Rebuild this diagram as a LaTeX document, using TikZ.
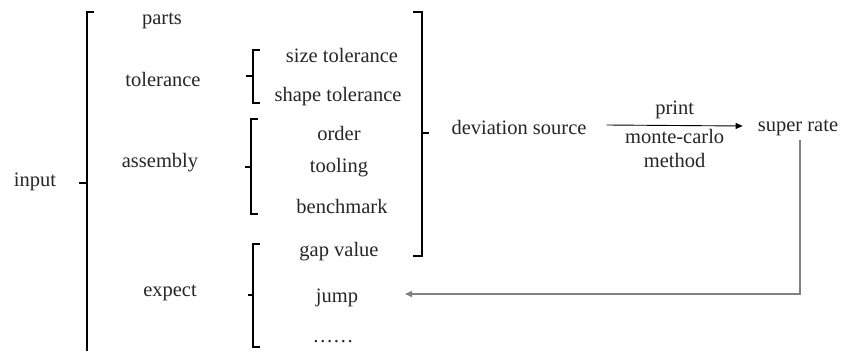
\documentclass[tikz,border=0pt]{standalone}
\usepackage{fontspec}
\setmainfont{LiberationSerif}[Extension=.ttf,UprightFont=*-Regular]
\usetikzlibrary{arrows.meta}
\begin{document}
\begin{tikzpicture}[x=1pt,y=-1pt,
	lbl/.style={inner sep=0pt,text=black!85,font=\fontsize{20.5}{24}\selectfont},
	brk/.style={line width=1.3pt},
	flow/.style={-{Triangle[length=7pt,width=6pt]},line width=0.9pt},
	back/.style={-{Triangle[length=7pt,width=6pt]},line width=1.3pt,draw=black!50}]
	\useasboundingbox (0,0) rectangle (844,351);
	\node[lbl] (input) at (35,182) {input};
	\node[lbl] (parts) at (162,21) {parts};
	\node[lbl] (tol) at (163,79) {tolerance};
	\node[lbl] (asm) at (160,163) {assembly};
	\node[lbl] (expect) at (170,293) {expect};
	\node[lbl] (size) at (342,55) {size tolerance};
	\node[lbl] (shape) at (338,97) {shape tolerance};
	\node[lbl] (order) at (339,133) {order};
	\node[lbl] (tooling) at (339,168) {tooling};
	\node[lbl] (bench) at (342,206) {benchmark};
	\node[lbl] (gap) at (339,252) {gap value};
	\node[lbl] (jump) at (337,298) {jump};
	\node[lbl,anchor=base] (dots) at (333,342) {……};
	\node[lbl] (dev) at (519,127) {deviation source};
	\node[lbl] (super) at (798,128) {super rate};
	\coordinate (ret) at (405,294) ;
	% brackets
	\draw[brk] (94,12) -- (87,12) -- (87,351) ;
	\draw[brk] (79,183) -- (87,183) ;
	\draw[brk] (260,50) -- (253,50) -- (253,103) -- (260,103) ;
	\draw[brk] (246,76) -- (253,76) ;
	\draw[brk] (258,119) -- (251,119) -- (251,214) -- (258,214) ;
	\draw[brk] (245,167) -- (251,167) ;
	\draw[brk] (260,244) -- (253,244) -- (253,347) -- (260,347) ;
	\draw[brk] (248,295) -- (253,295) ;
	\draw[brk] (413,12) -- (422,12) -- (422,256) -- (413,256) ;
	\draw[brk] (422,133) -- (429,133) ;
	% arrows
	\draw[flow] ([xshift=20pt,yshift=2pt]dev.east) -- ([xshift=-15pt,yshift=2pt]super.west)
		node[lbl,midway,above=6pt] (print) {print}
		node[lbl,midway,below=3pt,align=center] (mc) {monte-carlo\\method} ;
	\draw[back] ([xshift=2pt,yshift=-4pt]super.south) |- (ret) ;
\end{tikzpicture}
\end{document}
